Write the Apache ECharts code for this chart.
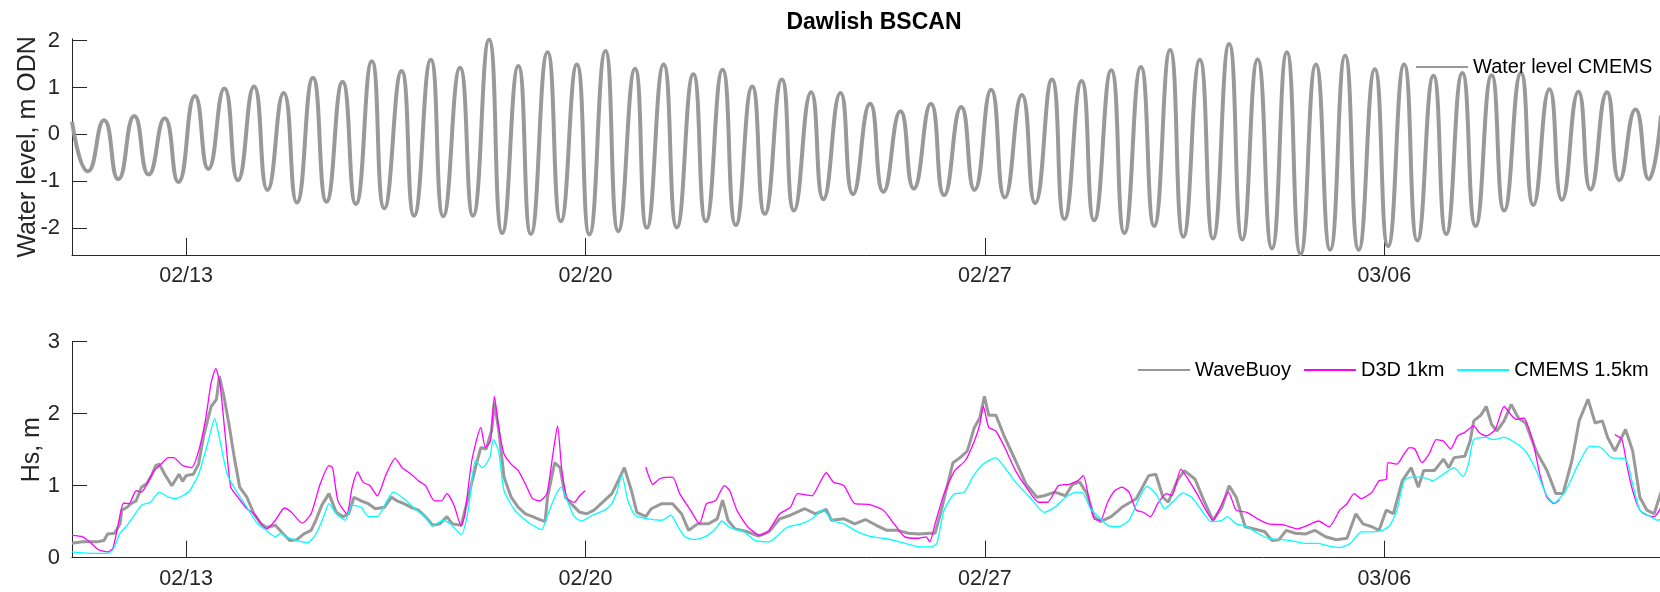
<!DOCTYPE html>
<html><head><meta charset="utf-8">
<script src="https://cdn.jsdelivr.net/npm/echarts@6/dist/echarts.min.js"></script>
<style>html,body{margin:0;padding:0;background:#fff}#c{width:1660px;height:592px}</style>
</head><body><div id="c"></div>
<script>
// x values are days after 2018-02-11 00:00
const xTickDays = [2, 9, 16, 23];
const xTickLabels = ['02/13', '02/20', '02/27', '03/06'];
const wlTicks = [-2, -1, 0, 1, 2];
const hsTicks = [0, 1, 2, 3];

// Water level (m ODN): tidal highs and lows [day, level]
const waterLevel = [
[0,0.27],[0.279,-0.79],[0.561,0.30],[0.811,-0.96],[1.092,0.39],[1.343,-0.86],[1.625,0.34],[1.863,-1.02],
[2.156,0.82],[2.389,-0.74],[2.670,0.98],[2.908,-0.98],[3.190,1.02],[3.427,-1.19],[3.709,0.88],[3.941,-1.46],
[4.223,1.21],[4.461,-1.44],[4.742,1.12],[4.974,-1.49],[5.255,1.56],[5.474,-1.58],[5.776,1.35],[5.995,-1.74],
[6.289,1.59],[6.508,-1.75],[6.801,1.42],[7.027,-1.74],[7.309,2.02],[7.541,-2.11],[7.823,1.46],[8.042,-2.13],
[8.335,1.75],[8.568,-1.86],[8.848,1.49],[9.068,-2.14],[9.350,1.78],[9.576,-2.07],[9.868,1.40],[10.075,-2.00],
[10.370,1.49],[10.601,-1.99],[10.890,1.28],[11.110,-1.86],[11.402,1.38],[11.635,-1.94],[11.923,1.02],[12.142,-1.70],
[12.442,1.17],[12.655,-1.63],[12.955,0.90],[13.169,-1.39],[13.469,0.88],[13.688,-1.28],[13.988,0.65],[14.221,-1.23],
[14.520,0.49],[14.752,-1.16],[15.053,0.65],[15.285,-1.30],[15.585,0.58],[15.816,-1.19],[16.110,0.95],[16.349,-1.35],
[16.649,0.84],[16.880,-1.47],[17.175,1.17],[17.394,-1.81],[17.695,1.14],[17.914,-1.84],[18.214,1.37],[18.445,-2.11],
[18.734,1.44],[18.966,-1.96],[19.246,1.80],[19.479,-2.19],[19.767,1.59],[19.998,-2.23],[20.281,1.93],[20.512,-2.25],
[20.780,1.60],[21.031,-2.44],[21.293,1.75],[21.532,-2.56],[21.802,1.49],[22.051,-2.47],[22.314,1.68],[22.552,-2.47],
[22.834,1.39],[23.066,-2.39],[23.348,1.49],[23.580,-2.27],[23.862,1.25],[24.086,-2.13],[24.368,1.31],[24.600,-1.96],
[24.882,1.26],[25.101,-1.63],[25.395,1.31],[25.614,-1.51],[25.895,0.96],[26.114,-1.40],[26.403,0.91],[26.615,-1.18],
[26.903,0.90],[27.122,-0.98],[27.404,0.53],[27.635,-0.96],[27.85,0.40]
];

// Hs (m) [day, Hs]
const waveBuoy = [
[0,0.20],[0.185,0.22],[0.435,0.22],[0.56,0.24],[0.623,0.33],[0.748,0.34],[0.842,0.47],[0.873,0.66],[0.967,0.70],
[1.03,0.75],[1.124,0.79],[1.218,0.98],[1.312,1.03],[1.406,1.16],[1.468,1.28],[1.531,1.30],[1.625,1.16],[1.75,1.00],
[1.875,1.16],[1.938,1.06],[2.0,1.14],[2.126,1.16],[2.219,1.30],[2.313,1.71],[2.439,2.10],[2.532,2.20],[2.583,2.52],
[2.658,2.26],[2.752,1.85],[2.845,1.39],[2.939,0.98],[3.065,0.84],[3.19,0.61],[3.315,0.47],[3.409,0.42],[3.565,0.45],
[3.691,0.34],[3.816,0.24],[3.941,0.25],[4.066,0.33],[4.191,0.38],[4.285,0.54],[4.379,0.73],[4.504,0.89],[4.63,0.63],
[4.755,0.57],[4.849,0.61],[4.943,0.84],[5.068,0.79],[5.193,0.75],[5.318,0.68],[5.475,0.70],[5.6,0.84],[5.694,0.79],
[5.819,0.75],[5.944,0.70],[6.069,0.66],[6.195,0.57],[6.32,0.45],[6.445,0.47],[6.57,0.57],[6.664,0.47],[6.821,0.45],
[6.946,0.84],[7.071,1.25],[7.165,1.53],[7.259,1.51],[7.353,1.76],[7.403,2.15],[7.478,1.78],[7.572,1.12],[7.697,0.84],
[7.822,0.70],[7.948,0.61],[8.073,0.57],[8.198,0.53],[8.292,0.50],[8.335,0.84],[8.46,1.32],[8.554,1.25],[8.648,0.84],
[8.773,0.73],[8.899,0.63],[9.024,0.61],[9.149,0.66],[9.274,0.75],[9.462,0.89],[9.587,1.09],[9.681,1.25],[9.806,0.93],
[9.9,0.63],[10.057,0.57],[10.151,0.68],[10.338,0.75],[10.526,0.75],[10.683,0.61],[10.808,0.38],[10.964,0.47],
[11.152,0.47],[11.309,0.54],[11.403,0.80],[11.497,0.52],[11.622,0.40],[11.841,0.36],[12.029,0.30],[12.216,0.36],
[12.404,0.54],[12.592,0.59],[12.843,0.68],[13.03,0.61],[13.218,0.67],[13.312,0.52],[13.531,0.54],[13.719,0.47],
[13.907,0.53],[14.095,0.45],[14.282,0.38],[14.47,0.38],[14.658,0.34],[14.846,0.33],[15.034,0.34],[15.127,0.34],
[15.221,0.61],[15.347,1.02],[15.441,1.32],[15.566,1.39],[15.691,1.48],[15.816,1.81],[15.91,1.94],[15.992,2.24],
[16.067,1.98],[16.192,1.98],[16.348,1.67],[16.536,1.35],[16.724,1.02],[16.912,0.84],[17.037,0.86],[17.225,0.91],
[17.412,0.86],[17.538,1.02],[17.663,1.05],[17.788,0.89],[17.913,0.57],[18.026,0.50],[18.214,0.57],[18.402,0.70],
[18.652,0.82],[18.871,1.14],[18.996,1.16],[19.122,0.84],[19.215,0.77],[19.372,1.07],[19.497,1.21],[19.685,1.09],
[19.841,0.79],[19.998,0.52],[20.154,0.70],[20.28,1.00],[20.405,0.84],[20.561,0.43],[20.718,0.40],[20.906,0.36],
[21.031,0.24],[21.156,0.25],[21.281,0.38],[21.438,0.34],[21.626,0.33],[21.782,0.38],[21.97,0.29],[22.158,0.25],
[22.346,0.27],[22.502,0.61],[22.627,0.47],[22.784,0.43],[22.909,0.38],[23.034,0.66],[23.159,0.61],[23.316,1.07],
[23.472,1.25],[23.598,0.98],[23.691,1.21],[23.879,1.21],[24.036,1.37],[24.13,1.25],[24.224,1.39],[24.411,1.41],
[24.505,1.62],[24.568,1.90],[24.693,1.98],[24.787,2.10],[24.881,1.85],[24.975,1.76],[25.1,1.90],[25.225,2.13],
[25.35,1.94],[25.476,1.87],[25.663,1.48],[25.851,1.21],[26.008,0.89],[26.133,0.89],[26.289,1.35],[26.415,1.90],
[26.571,2.20],[26.696,1.87],[26.822,1.90],[26.915,1.67],[27.041,1.48],[27.229,1.78],[27.354,1.48],[27.479,0.84],
[27.604,0.66],[27.73,0.61],[27.85,0.91]
];

const d3d1km = [
[0,0.31],[0.185,0.29],[0.31,0.22],[0.467,0.11],[0.623,0.08],[0.717,0.13],[0.811,0.47],[0.905,0.76],[0.999,0.75],
[1.124,0.93],[1.218,0.91],[1.343,1.07],[1.437,1.21],[1.562,1.30],[1.687,1.39],[1.781,1.39],[1.938,1.28],[2.094,1.25],
[2.219,1.48],[2.345,1.94],[2.439,2.43],[2.52,2.63],[2.595,2.40],[2.689,1.67],[2.783,0.98],[2.908,0.84],[3.065,0.68],
[3.19,0.61],[3.315,0.47],[3.409,0.40],[3.565,0.52],[3.722,0.69],[3.847,0.63],[4.035,0.48],[4.191,0.61],[4.348,1.02],
[4.504,1.28],[4.567,1.25],[4.661,0.79],[4.817,0.61],[4.911,0.98],[5.005,1.19],[5.099,1.05],[5.224,1.00],[5.35,0.86],
[5.506,1.16],[5.663,1.38],[5.788,1.25],[5.944,1.16],[6.069,1.07],[6.195,1.00],[6.351,0.79],[6.476,0.79],[6.57,0.89],
[6.695,0.73],[6.821,0.44],[6.883,0.59],[7.008,1.35],[7.165,1.81],[7.246,1.53],[7.334,1.62],[7.403,2.24],[7.478,1.81],
[7.572,1.44],[7.697,1.30],[7.822,1.21],[7.948,1.02],[8.073,0.82],[8.198,0.79],[8.323,0.89],[8.429,1.44],[8.51,1.83],
[8.586,1.21],[8.68,0.82],[8.805,0.77],[8.899,0.86],[8.993,0.93],[9.5,null],[10.057,1.26],[10.182,1.02],[10.307,1.10],
[10.526,1.12],[10.651,0.89],[10.839,0.66],[10.996,0.47],[11.121,0.75],[11.277,0.79],[11.434,1.00],[11.528,0.93],
[11.653,0.66],[11.841,0.43],[12.06,0.31],[12.216,0.38],[12.404,0.61],[12.592,0.70],[12.717,0.89],[12.968,0.86],
[13.093,1.02],[13.218,1.18],[13.343,1.05],[13.531,1.00],[13.719,0.75],[13.969,0.74],[14.22,0.66],[14.408,0.47],
[14.595,0.29],[14.846,0.27],[14.971,0.29],[15.034,0.22],[15.127,0.47],[15.284,0.89],[15.472,1.21],[15.659,1.35],
[15.816,1.62],[15.91,1.85],[15.973,2.10],[16.067,1.81],[16.192,1.76],[16.348,1.53],[16.536,1.21],[16.724,0.98],
[16.943,0.77],[17.1,0.77],[17.287,1.00],[17.475,1.02],[17.631,1.07],[17.725,1.14],[17.819,0.84],[17.913,0.54],
[18.026,0.52],[18.151,0.77],[18.276,0.93],[18.402,0.98],[18.527,0.91],[18.652,0.66],[18.777,0.63],[18.902,0.57],
[19.028,0.75],[19.184,0.89],[19.278,0.86],[19.435,1.23],[19.56,1.09],[19.716,0.89],[19.873,0.66],[19.998,0.52],
[20.123,0.70],[20.267,0.91],[20.405,0.66],[20.593,0.63],[20.78,0.54],[20.968,0.47],[21.219,0.46],[21.469,0.40],
[21.657,0.45],[21.845,0.51],[22.033,0.43],[22.22,0.66],[22.346,0.75],[22.471,0.89],[22.596,0.82],[22.784,0.91],
[22.909,1.07],[23.034,1.09],[23.065,1.32],[23.222,1.30],[23.347,1.44],[23.441,1.53],[23.535,1.51],[23.66,1.32],
[23.785,1.44],[23.911,1.64],[24.036,1.62],[24.161,1.51],[24.286,1.69],[24.411,1.74],[24.568,1.83],[24.662,1.74],
[24.787,1.69],[24.944,1.78],[25.1,2.10],[25.225,1.98],[25.319,1.92],[25.444,1.94],[25.601,1.62],[25.726,1.16],
[25.851,0.84],[25.976,0.75],[26.07,0.80],[26.5,null],[27.041,1.71],[27.166,1.64],[27.26,1.25],[27.354,0.93],
[27.479,0.66],[27.604,0.59],[27.73,0.57],[27.85,0.70]
];

const cmems15km = [
[0,0.08],[0.31,0.06],[0.623,0.06],[0.717,0.11],[0.842,0.34],[0.967,0.45],[1.093,0.59],[1.218,0.73],[1.374,0.77],
[1.531,0.91],[1.687,0.84],[1.812,0.82],[1.938,0.86],[2.063,0.93],[2.219,1.16],[2.376,1.58],[2.501,1.93],[2.595,1.62],
[2.72,1.16],[2.877,0.93],[3.065,0.70],[3.252,0.47],[3.409,0.38],[3.565,0.29],[3.659,0.34],[3.753,0.29],[3.941,0.24],
[4.129,0.21],[4.285,0.34],[4.41,0.57],[4.504,0.75],[4.63,0.61],[4.786,0.52],[4.911,0.73],[5.068,0.70],[5.193,0.57],
[5.35,0.57],[5.506,0.77],[5.631,0.91],[5.819,0.82],[6.007,0.68],[6.195,0.57],[6.32,0.44],[6.508,0.52],[6.633,0.47],
[6.821,0.32],[6.946,0.66],[7.071,1.35],[7.196,1.25],[7.321,1.39],[7.384,1.64],[7.478,1.48],[7.572,0.93],[7.76,0.66],
[7.948,0.52],[8.073,0.45],[8.229,0.39],[8.335,0.59],[8.46,0.84],[8.573,0.98],[8.68,0.79],[8.805,0.57],[8.93,0.51],
[9.118,0.59],[9.337,0.66],[9.462,0.75],[9.556,0.93],[9.637,1.15],[9.744,0.79],[9.869,0.59],[10.088,0.54],[10.338,0.52],
[10.495,0.59],[10.62,0.43],[10.745,0.29],[10.902,0.25],[11.09,0.29],[11.277,0.40],[11.39,0.51],[11.528,0.42],
[11.778,0.36],[11.966,0.24],[12.216,0.22],[12.342,0.29],[12.53,0.42],[12.78,0.47],[12.968,0.54],[13.156,0.66],
[13.343,0.51],[13.531,0.47],[13.719,0.38],[13.969,0.30],[14.22,0.27],[14.408,0.24],[14.595,0.20],[14.846,0.15],
[15.065,0.15],[15.159,0.20],[15.284,0.66],[15.472,0.89],[15.628,0.90],[15.785,1.12],[15.973,1.30],[16.192,1.39],
[16.348,1.25],[16.536,1.05],[16.787,0.84],[17.037,0.63],[17.225,0.70],[17.412,0.84],[17.6,0.91],[17.725,0.89],
[17.85,0.68],[18.026,0.54],[18.151,0.45],[18.339,0.43],[18.527,0.52],[18.683,0.79],[18.84,0.99],[18.996,0.89],
[19.153,0.68],[19.309,0.79],[19.466,0.90],[19.622,0.84],[19.779,0.68],[19.967,0.50],[20.154,0.52],[20.248,0.57],
[20.405,0.47],[20.593,0.43],[20.78,0.34],[20.968,0.27],[21.219,0.25],[21.407,0.23],[21.594,0.20],[21.845,0.20],
[22.033,0.16],[22.22,0.14],[22.408,0.20],[22.596,0.36],[22.784,0.36],[22.972,0.38],[23.097,0.45],[23.222,0.66],
[23.347,1.07],[23.472,1.12],[23.66,1.12],[23.848,1.07],[24.036,1.16],[24.224,1.25],[24.38,1.13],[24.474,1.30],
[24.568,1.64],[24.787,1.67],[24.912,1.64],[25.1,1.67],[25.288,1.60],[25.476,1.48],[25.663,1.21],[25.851,0.86],
[25.976,0.76],[26.164,0.91],[26.415,1.32],[26.602,1.55],[26.79,1.53],[26.978,1.39],[27.229,1.37],[27.354,1.02],
[27.479,0.66],[27.667,0.57],[27.792,0.52],[27.85,0.54]
];

const X_MAX = 27.85;
const FONT = '"Liberation Sans", Arial, Helvetica, sans-serif';
const AX = '#262626';

function near(v, arr) { for (let i = 0; i < arr.length; i++) if (Math.abs(arr[i] - v) < 1e-6) return i; return -1; }

function xAxisCfg(gi) {
  return {
    type: 'value', gridIndex: gi, min: 0, max: X_MAX,
    axisLine: { show: true, onZero: false, lineStyle: { color: AX, width: 1 } },
    axisTick: { show: true, inside: true, length: 17, customValues: xTickDays, lineStyle: { color: AX, width: 1 } },
    axisLabel: { customValues: xTickDays, formatter: v => { const i = near(v, xTickDays); return i >= 0 ? xTickLabels[i] : ''; },
      fontSize: 21.5, color: AX, margin: 10, fontFamily: FONT },
    splitLine: { show: false }
  };
}
function yAxisCfg(gi, min, max, ticks, name, gap) {
  return {
    type: 'value', gridIndex: gi, min: min, max: max,
    name: name, nameLocation: 'middle', nameGap: gap, nameMoveOverlap: false,
    nameTextStyle: { fontSize: 25, color: AX, fontFamily: FONT },
    axisLine: { show: true, onZero: false, lineStyle: { color: AX, width: 1 } },
    axisTick: { show: true, inside: true, length: 15, customValues: ticks, lineStyle: { color: AX, width: 1 } },
    axisLabel: { customValues: ticks, formatter: v => String(Math.round(v)), fontSize: 22, color: AX, margin: 12, fontFamily: FONT },
    splitLine: { show: false }
  };
}

const legendCommon = { itemWidth: 52, itemHeight: 14, selectedMode: false,
  itemStyle: { color: 'rgba(0,0,0,0)', borderWidth: 0, opacity: 0 },
  textStyle: { fontSize: 20, color: '#000', fontFamily: FONT } };

const chart = echarts.init(document.getElementById('c'), null, { renderer: 'canvas' });
chart.setOption({
  animation: false,
  backgroundColor: '#ffffff',
  title: { text: 'Dawlish BSCAN', left: 869, top: 6, textAlign: 'center',
    textStyle: { fontSize: 23, fontWeight: 'bold', color: '#000', fontFamily: FONT } },
  grid: [
    { left: 72, top: 38.8, width: 1589, height: 216.2, containLabel: false, outerBoundsMode: 'none' },
    { left: 72, top: 341.7, width: 1589, height: 216, containLabel: false, outerBoundsMode: 'none' }
  ],
  legend: [
    Object.assign({ data: ['Water level CMEMS'], left: 1410, top: 52 }, legendCommon),
    Object.assign({ data: ['WaveBuoy', 'D3D 1km', 'CMEMS 1.5km'], left: 1132, top: 355, itemGap: 12 }, legendCommon)
  ],
  xAxis: [xAxisCfg(0), xAxisCfg(1)],
  yAxis: [
    yAxisCfg(0, -2.58, 2.04, wlTicks, 'Water level, m ODN', 31),
    yAxisCfg(1, 0, 3, hsTicks, 'Hs, m', 27)
  ],
  series: [
    { name: 'Water level CMEMS', type: 'line', xAxisIndex: 0, yAxisIndex: 0, data: waterLevel,
      symbol: 'none', smooth: 0.55, lineStyle: { color: '#999999', width: 4 }, itemStyle: { color: '#999999' } },
    { name: 'WaveBuoy', type: 'line', xAxisIndex: 1, yAxisIndex: 1, data: waveBuoy,
      symbol: 'none', lineStyle: { color: '#999999', width: 3 }, itemStyle: { color: '#999999' } },
    { name: 'D3D 1km', type: 'line', xAxisIndex: 1, yAxisIndex: 1, data: d3d1km,
      symbol: 'none', smooth: 0.2, lineStyle: { color: '#ff00ff', width: 1.3 }, itemStyle: { color: '#ff00ff' } },
    { name: 'CMEMS 1.5km', type: 'line', xAxisIndex: 1, yAxisIndex: 1, data: cmems15km,
      symbol: 'none', smooth: 0.2, lineStyle: { color: '#00ffff', width: 1.3 }, itemStyle: { color: '#00ffff' } }
  ]
});
</script></body></html>
